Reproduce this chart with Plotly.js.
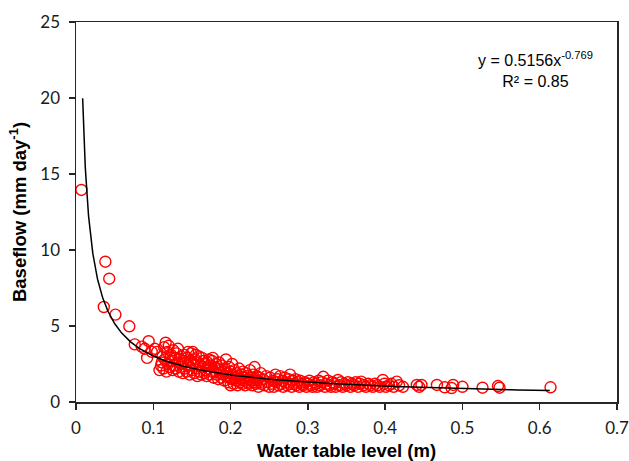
<!DOCTYPE html>
<html>
<head>
<meta charset="utf-8">
<script src="https://cdn.plot.ly/plotly-3.0.1.min.js"></script>
<style>html,body{margin:0;padding:0;background:#fff;}#chart{width:629px;height:461px;}</style>
</head>
<body>
<div id="chart"></div>
<script>
// Observed points: water table level (m)
var waterTable = [
0.007,0.036,0.038,0.043,0.051,0.069,0.076,0.085,0.089,0.092,0.094,0.098,0.102,
0.105,0.108,0.110,0.111,0.112,0.113,0.114,0.115,0.116,0.117,0.118,0.119,0.120,0.121,0.122,0.123,0.124,0.125,
0.126,0.127,0.128,0.129,0.130,0.131,0.132,0.133,0.134,0.135,0.136,0.137,0.138,0.139,0.140,0.141,0.142,0.143,0.144,0.145,0.146,0.147,0.148,0.149,0.150,
0.151,0.152,0.153,0.154,0.155,0.156,0.157,0.158,0.159,0.160,0.161,0.162,0.163,0.164,0.165,0.166,0.167,0.168,0.169,0.170,0.171,0.172,0.173,0.174,0.175,
0.176,0.177,0.178,0.179,0.180,0.181,0.182,0.183,0.184,0.185,0.186,0.187,0.188,0.189,0.190,0.191,0.192,0.193,0.194,0.195,0.196,0.197,0.198,0.199,0.200,0.200,
0.201,0.202,0.203,0.204,0.205,0.206,0.207,0.208,0.209,0.210,0.211,0.212,0.213,0.214,0.215,0.216,0.217,0.218,0.219,0.220,0.221,0.222,0.223,0.224,0.225,0.226,0.227,0.228,0.229,0.230,0.231,0.232,0.233,0.234,0.235,0.236,0.237,0.238,0.239,0.240,0.242,0.244,0.246,0.248,0.250,
0.251,0.253,0.255,0.256,0.258,0.259,0.261,0.262,0.264,0.265,0.267,0.268,0.270,0.271,0.273,0.275,0.276,0.277,0.279,0.280,0.282,0.284,0.285,0.287,0.289,0.290,0.292,0.294,0.296,0.298,0.300,
0.302,0.304,0.306,0.308,0.310,0.312,0.314,0.316,0.318,0.320,0.322,0.324,0.326,0.328,0.330,0.332,0.334,0.336,0.339,0.341,0.343,0.345,0.347,0.350,0.352,0.355,0.357,0.360,0.362,0.365,0.367,0.369,0.372,0.375,0.378,0.381,0.384,0.387,0.390,0.393,0.397,0.399,0.401,
0.405,0.408,0.411,0.415,0.418,0.423,0.441,0.444,0.447,0.467,0.477,0.486,0.488,0.500,0.526,0.546,0.548,0.614
];
// Observed points: baseflow (mm day-1)
var baseflow = [
13.95,6.25,9.23,8.11,5.75,4.98,3.79,3.64,3.5,2.9,4.0,3.3,3.5,
3.3,2.1,2.4,2.6,3.0,2.2,3.6,2.8,3.9,2.0,3.3,2.5,3.7,2.3,2.9,3.1,2.7,2.1,
3.4,2.4,2.9,2.2,3.2,2.6,3.5,2.0,2.8,2.3,3.0,2.5,1.9,2.7,3.1,2.2,2.6,2.0,2.9,3.3,2.4,1.8,2.7,3.2,2.1,
3.3,2.5,1.9,2.8,3.1,2.2,1.7,2.6,3.0,2.0,2.4,1.8,2.9,2.3,2.7,1.9,2.5,2.1,1.7,2.6,2.2,2.8,1.8,2.4,2.0,
2.7,2.9,1.6,2.3,2.0,2.5,1.8,2.2,1.5,2.6,1.9,2.1,1.6,2.4,1.8,2.0,1.4,2.2,2.8,1.7,1.9,1.3,2.3,1.6,1.1,2.0,
1.5,2.5,1.8,1.2,2.1,1.6,1.4,1.9,1.1,1.7,2.2,1.3,1.5,1.8,1.2,2.0,1.4,1.6,1.1,1.9,1.3,1.7,1.5,1.2,2.1,1.4,1.6,1.1,1.8,1.3,2.3,1.5,1.2,1.7,1.4,1.0,1.6,1.3,1.9,1.2,1.5,1.1,1.7,1.3,1.0,
1.6,1.2,1.4,1.0,1.8,1.3,1.5,1.1,1.7,1.2,1.4,1.0,1.6,1.3,1.1,1.5,1.2,1.8,1.0,1.4,1.2,1.5,1.1,1.3,1.0,1.4,1.2,1.1,1.3,1.0,1.2,
1.4,1.1,1.0,1.3,1.2,1.0,1.4,1.1,1.3,1.66,1.0,1.2,1.4,1.1,1.0,1.3,1.2,1.0,1.45,1.1,1.3,1.0,1.2,1.1,1.3,1.0,1.2,1.1,1.3,1.0,1.2,1.34,1.1,1.0,1.2,1.1,1.0,1.2,1.1,1.0,1.45,1.2,1.0,
1.1,1.2,1.0,1.34,1.1,1.0,1.12,1.0,1.12,1.12,0.97,0.92,1.12,1.0,0.94,1.05,0.94,0.97
];
// Fitted power trendline shown on the chart: y = a * x^b
var fitA = 0.5156;
var fitB = -0.769;
var fitXStart = 0.0086;
var fitXEnd = 0.613;
var fitX = [], fitY = [];
var nFit = 300;
for (var i = 0; i <= nFit; i++) {
  var xv = fitXStart * Math.pow(fitXEnd / fitXStart, i / nFit);
  fitX.push(xv);
  fitY.push(fitA * Math.pow(xv, fitB));
}
var xTickVals = [0,0.1,0.2,0.3,0.4,0.5,0.6,0.7];
var xTickText = ['0','0.1','0.2','0.3','0.4','0.5','0.6','0.7'];
var yTickVals = [0,5,10,15,20,25];
var yTickText = ['0','5','10','15','20','25'];

var traces = [
  {
    x: waterTable, y: baseflow, type: 'scatter', mode: 'markers',
    marker: {symbol: 'circle-open', size: 11, color: '#ff0000', line: {width: 1.4, color: '#ff0000'}},
    hoverinfo: 'skip', showlegend: false
  },
  {
    x: fitX, y: fitY, type: 'scatter', mode: 'lines',
    line: {color: '#000000', width: 1.5},
    hoverinfo: 'skip', showlegend: false
  }
];

var axisFont = {family: 'Lato, "Open Sans", sans-serif', size: 17, color: '#1a1a1a'};
var titleFont = {family: '"Liberation Sans", Arial, sans-serif', size: 18.5, color: '#000000', weight: 'bold'};

var layout = {
  width: 629, height: 461,
  margin: {l: 76, r: 12, t: 22, b: 59, pad: 0},
  paper_bgcolor: '#ffffff', plot_bgcolor: '#ffffff',
  showlegend: false,
  xaxis: {
    range: [0, 0.7], tickmode: 'array', tickvals: xTickVals, ticktext: xTickText,
    showgrid: false, zeroline: false, showline: true, mirror: true,
    linecolor: '#262626', linewidth: 1.5,
    ticks: 'outside', ticklen: 6, tickwidth: 1.5, tickcolor: '#262626',
    tickfont: axisFont, ticklabelstandoff: 4, ticklabeloverflow: 'allow',
    title: {text: '<b>Water table level (m)</b>', font: titleFont, standoff: 9}
  },
  yaxis: {
    range: [0, 25], tickmode: 'array', tickvals: yTickVals, ticktext: yTickText,
    showgrid: false, zeroline: false, showline: true, mirror: true,
    linecolor: '#262626', linewidth: 1.5,
    ticks: 'outside', ticklen: 6, tickwidth: 1.5, tickcolor: '#262626',
    tickfont: axisFont, ticklabelstandoff: 5, ticklabeloverflow: 'allow',
    title: {text: '<b>Baseflow (mm day<sup>-1</sup>)</b>', font: titleFont, standoff: 9}
  },
  annotations: [{
    x: 0.594, y: 21.9, xref: 'x', yref: 'y',
    text: 'y = 0.5156x<sup>-0.769</sup><br>R² = 0.85',
    showarrow: false, align: 'center',
    font: {family: '"Liberation Sans", Arial, sans-serif', size: 16, color: '#000000'}
  }]
};

Plotly.newPlot('chart', traces, layout, {displayModeBar: false, staticPlot: true});
</script>
</body>
</html>
